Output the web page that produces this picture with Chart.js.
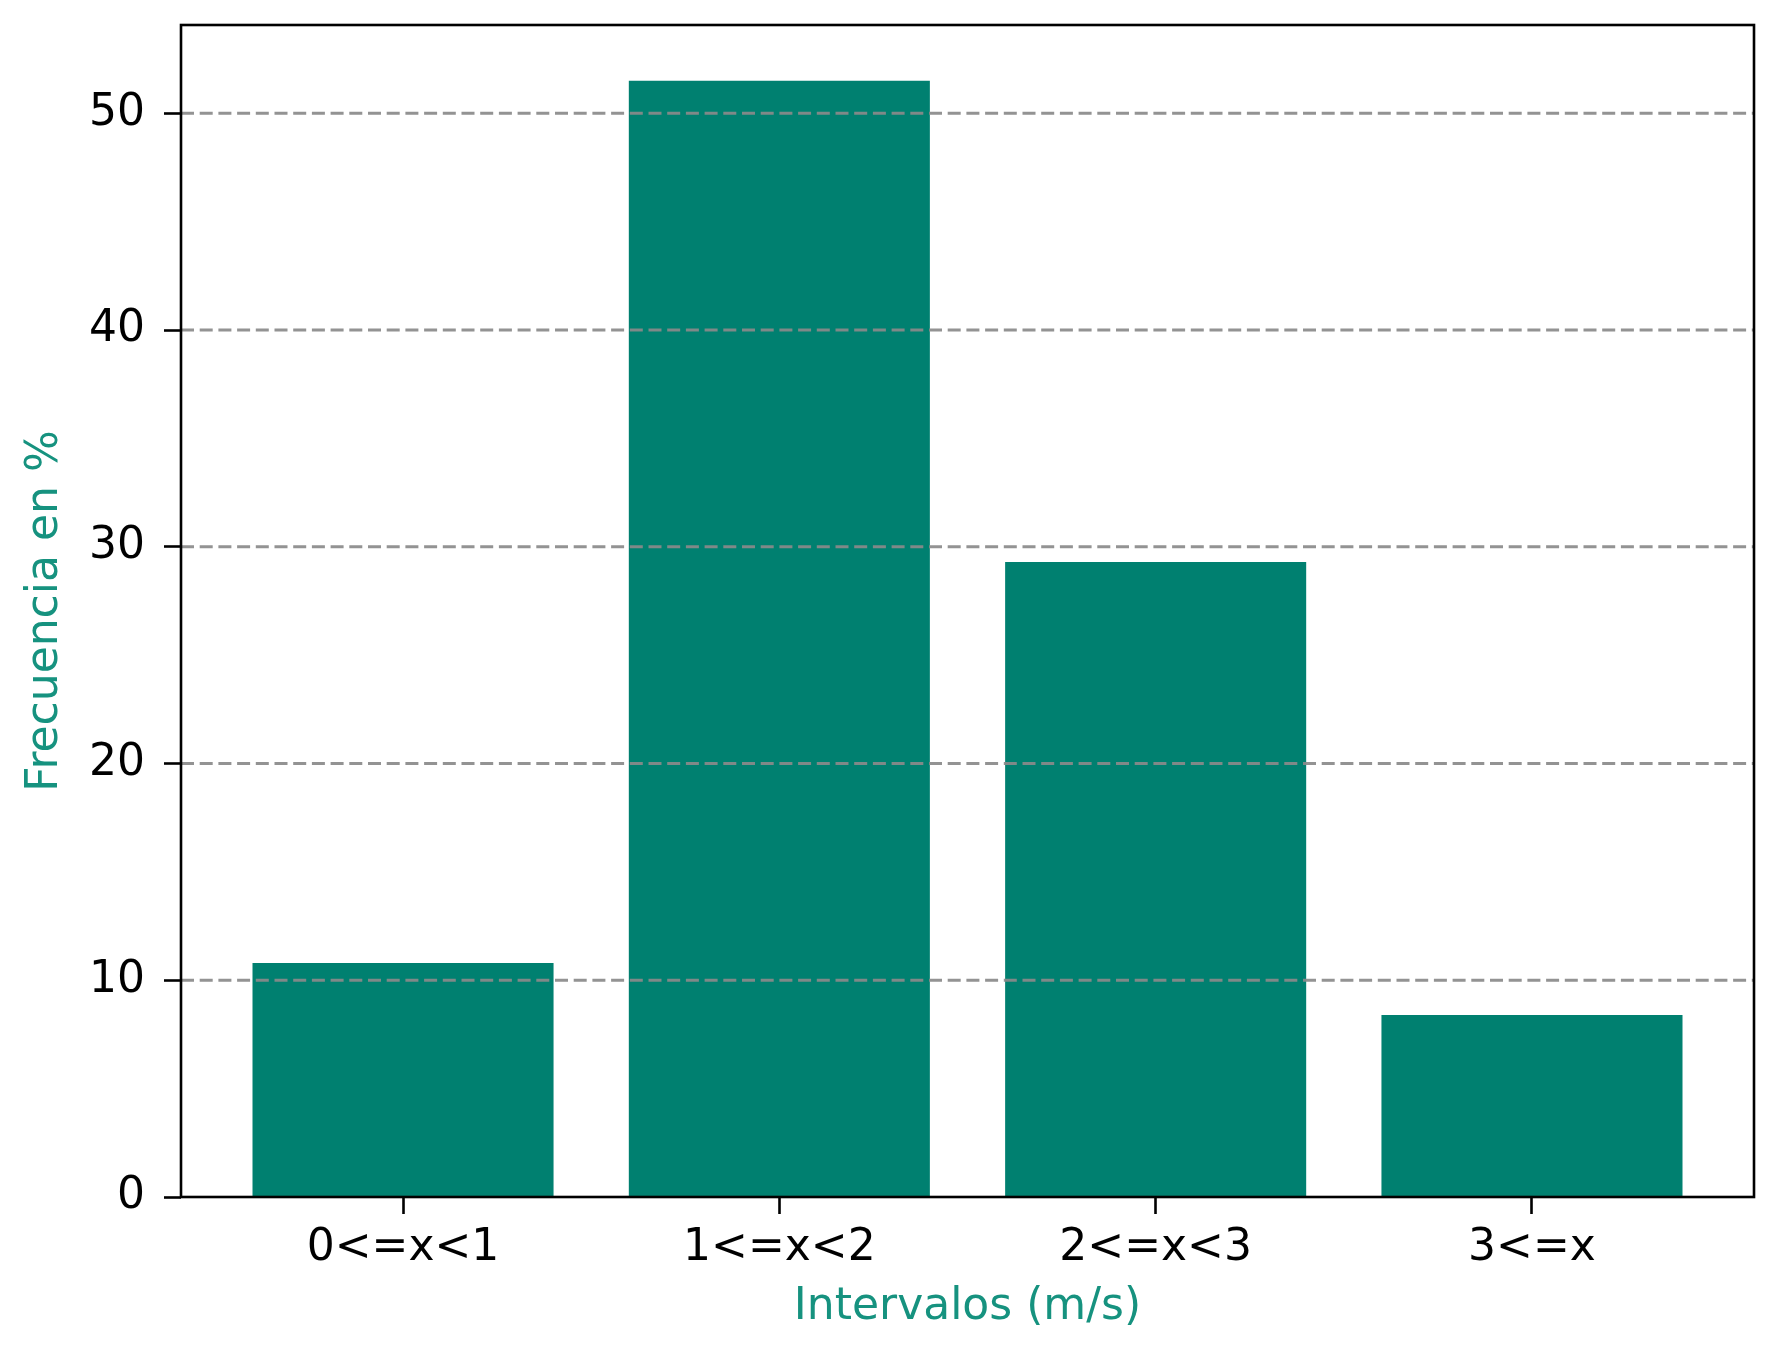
<!DOCTYPE html>
<html lang="es">
<head>
  <meta charset="UTF-8" />
  <title>Frecuencia por intervalos</title>
  <script src="https://cdn.jsdelivr.net/npm/chart.js"></script>
  <style>
    html, body { margin: 0; padding: 0; background: #fff; }
    #wrap { width: 1786px; height: 1356px; }
  </style>
</head>
<body>
  <div id="wrap"><canvas id="freqChart" width="1786" height="1356"></canvas></div>

  <script>
    // datos
    const intervalos = ['0<=x<1', '1<=x<2', '2<=x<3', '3<=x'];
    const frecuencias = [10.8, 51.5, 29.3, 8.4];
    const yTicks = [0, 10, 20, 30, 40, 50];

    const barColor = '#008070';
    const labelColor = '#16927f';
    const fontFamily = "'DejaVu Sans', sans-serif";

    // rejilla punteada encima de las barras + marco negro completo (como matplotlib)
    const overlay = {
      id: 'overlay',
      afterDraw(chart) {
        const { ctx, chartArea: a, scales: { y } } = chart;
        ctx.save();
        ctx.strokeStyle = 'rgba(138,138,138,0.92)';
        ctx.lineWidth = 3;
        ctx.setLineDash([13, 5.7]);
        yTicks.filter(v => v > 0).forEach(v => {
          const py = y.getPixelForValue(v);
          ctx.beginPath();
          ctx.moveTo(a.left, py);
          ctx.lineTo(a.right, py);
          ctx.stroke();
        });
        ctx.setLineDash([]);
        ctx.strokeStyle = '#000';
        ctx.lineWidth = 2.6;
        ctx.strokeRect(a.left, a.top, a.right - a.left, a.bottom - a.top);
        ctx.restore();
      }
    };

    const ctx = document.getElementById('freqChart').getContext('2d');
    new Chart(ctx, {
      type: 'bar',
      data: {
        datasets: [{
          data: frecuencias.map((v, i) => ({ x: i, y: v })),
          backgroundColor: barColor,
          borderWidth: 0,
          barPercentage: 0.8,
          categoryPercentage: 1.0
        }]
      },
      options: {
        responsive: false,
        animation: false,
        layout: { padding: { left: 0, top: 0, right: 32, bottom: 0 } },
        plugins: {
          legend: { display: false },
          tooltip: { enabled: false }
        },
        scales: {
          x: {
            type: 'linear',
            offset: false,
            min: -0.59,
            max: 3.59,
            afterBuildTicks: s => { s.ticks = intervalos.map((_, i) => ({ value: i })); },
            afterFit: s => { s.height = 159; },
            grid: {
              offset: false,
              drawOnChartArea: false,
              drawTicks: true,
              tickLength: 17,
              tickColor: '#000',
              tickWidth: 2.6
            },
            border: { display: false },
            ticks: {
              autoSkip: false,
              maxRotation: 0,
              padding: 8,
              color: '#000',
              font: { family: fontFamily, size: 44 },
              callback: v => intervalos[v]
            },
            title: {
              display: true,
              text: 'Intervalos (m/s)',
              color: labelColor,
              font: { family: fontFamily, size: 44 },
              padding: { top: 0, bottom: 22 }
            }
          },
          y: {
            min: 0,
            max: 54.075,
            afterBuildTicks: s => { s.ticks = yTicks.map(v => ({ value: v })); },
            afterFit: s => { s.width = 181; s.paddingTop = 25; s.paddingBottom = 0; },
            grid: {
              drawOnChartArea: false,
              drawTicks: true,
              tickLength: 17,
              tickColor: '#000',
              tickWidth: 2.6
            },
            border: { display: false },
            ticks: {
              padding: 19,
              color: '#000',
              font: { family: fontFamily, size: 44 }
            },
            title: {
              display: true,
              text: 'Frecuencia en %',
              color: labelColor,
              font: { family: fontFamily, size: 44 },
              padding: { top: 19, bottom: 0 }
            }
          }
        }
      },
      plugins: [overlay]
    });
  </script>
</body>
</html>
